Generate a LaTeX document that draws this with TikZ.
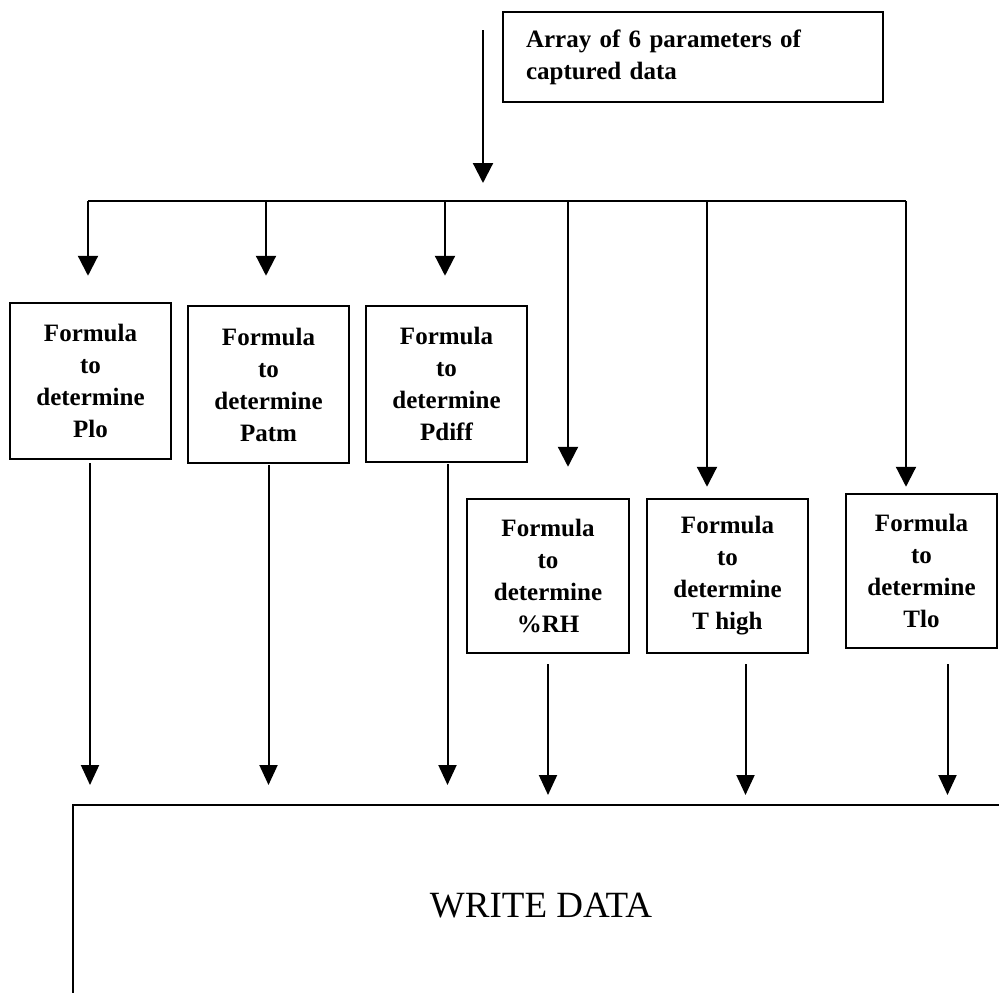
\documentclass[tikz,border=0pt]{standalone}
\usepackage{fontspec}
\setmainfont{Liberation Serif}
\usetikzlibrary{arrows.meta,calc}
\begin{document}
\begin{tikzpicture}[x=1pt,y=-1pt,
  box/.style={draw,line width=2.5pt,inner sep=0pt,align=center,
    font=\fontsize{25}{32}\selectfont\bfseries},
  arr/.style={line width=2.2pt,-{Triangle[width=20pt,length=20pt]}},
  outarr/.style={line width=2pt,-{Triangle[width=18pt,length=20pt]}},
  busline/.style={line width=2.2pt}]
\useasboundingbox (0,0) rectangle (999,993);

% top box
\node[box,align=left,minimum width=380pt,minimum height=90pt,
  text width=334pt,inner xsep=23pt] (top) at (693,57)
  {Array of 6 parameters of\\captured data};

% formula boxes
\node[box,minimum width=161pt,minimum height=156pt] (plo)   at (90.5,381)
  {Formula\\to\\determine\\Plo};
\node[box,minimum width=161pt,minimum height=157pt] (patm)  at (268.5,384.5)
  {Formula\\to\\determine\\Patm};
\node[box,minimum width=161pt,minimum height=156pt] (pdiff) at (446.5,384)
  {Formula\\to\\determine\\Pdiff};
\node[box,minimum width=162pt,minimum height=154pt] (rh)    at (548,576)
  {Formula\\to\\determine\\\%RH};
\node[box,minimum width=161pt,minimum height=154pt] (th)    at (727.5,576)
  {Formula\\to\\determine\\T high};
\node[box,minimum width=151pt,minimum height=154pt] (tl)    at (921.5,571)
  {Formula\\to\\determine\\Tlo};

% write data (open box: top and left edges)
\node[font=\fontsize{37}{40}\selectfont] (write) at (541,906) {WRITE DATA};
\coordinate (wdL) at (73,993);
\coordinate (wdC) at (73,805);
\coordinate (wdR) at (999,805);
\draw[line width=2.5pt] (wdL) -- (wdC) -- (wdR);

% source arrow and bus
\coordinate (src) at (483,30);
\coordinate (srcend) at (483,183);
\draw[arr] (src) -- (srcend);
\coordinate (d1) at (88,201);
\coordinate (d2) at (266,201);
\coordinate (d3) at (445,201);
\coordinate (d4) at (568,201);
\coordinate (d5) at (707,201);
\coordinate (d6) at (906,201);
\draw[busline] (d1) -- (d6);

\draw[arr] (d1) -- ($(d1 |- plo.north)+(0,-26)$);
\draw[arr] (d2) -- ($(d2 |- patm.north)+(0,-29)$);
\draw[arr] (d3) -- ($(d3 |- pdiff.north)+(0,-29)$);
\draw[arr] (d4) -- ($(d4 |- rh.north)+(0,-31)$);
\draw[arr] (d5) -- ($(d5 |- th.north)+(0,-11)$);
\draw[arr] (d6) -- ($(d6 |- tl.north)+(0,-6)$);

% outputs to write data
\draw[outarr] ($(plo.south)+(-0.5,3)$)  -- ($(plo.south |- wdC)+(-0.5,-20)$);
\draw[outarr] ($(patm.south)+(0,1)$)    -- ($(patm.south |- wdC)+(0,-20)$);
\draw[outarr] ($(pdiff.south)+(1,1)$)   -- ($(pdiff.south |- wdC)+(1,-20)$);
\draw[outarr] ($(rh.south)+(0,10)$)     -- ($(rh.south |- wdC)+(0,-10)$);
\draw[outarr] ($(th.south)+(18,10)$)    -- ($(th.south |- wdC)+(18,-10)$);
\draw[outarr] ($(tl.south)+(26,15)$)    -- ($(tl.south |- wdC)+(26,-10)$);
\end{tikzpicture}
\end{document}
